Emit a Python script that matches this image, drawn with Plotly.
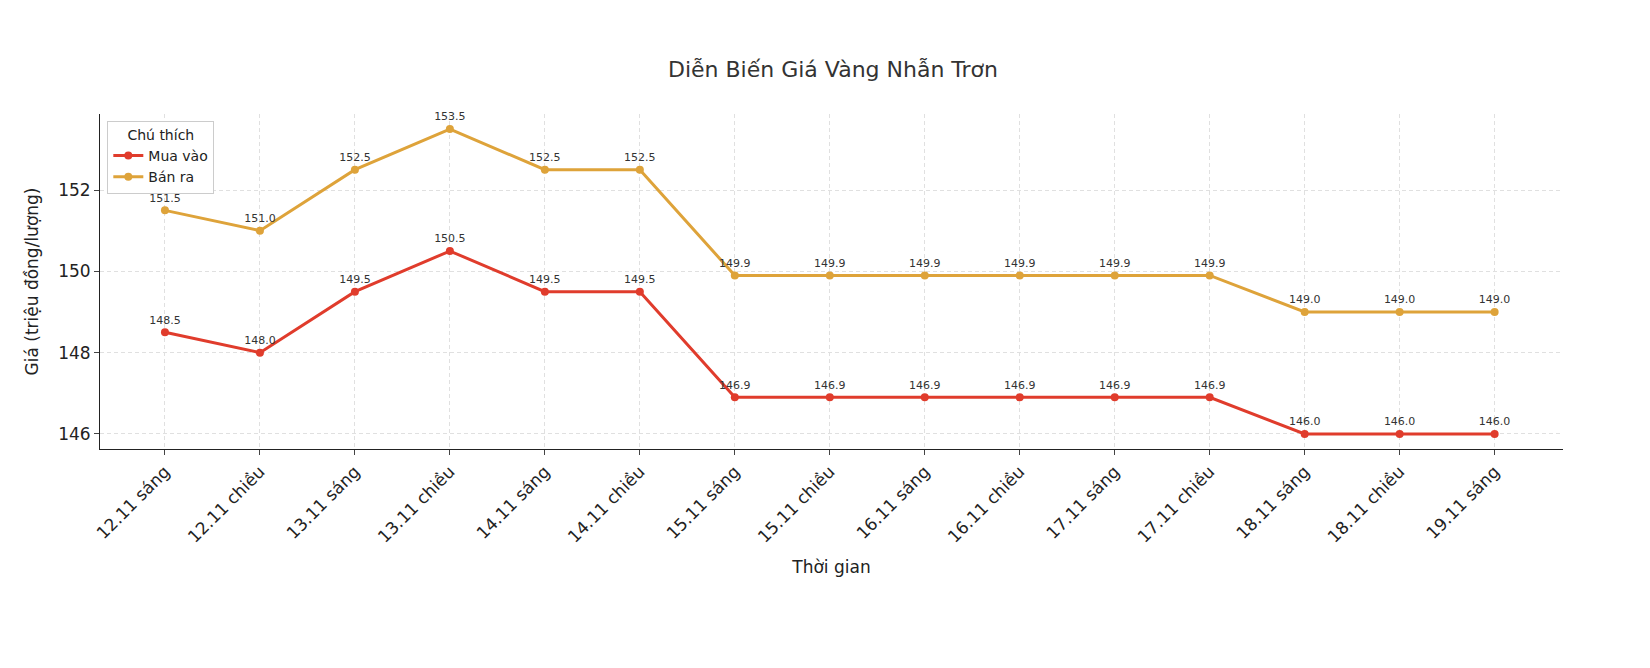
import plotly.graph_objects as go

# data
thoi_gian = ["12.11 sáng", "12.11 chiều", "13.11 sáng", "13.11 chiều", "14.11 sáng",
             "14.11 chiều", "15.11 sáng", "15.11 chiều", "16.11 sáng", "16.11 chiều",
             "17.11 sáng", "17.11 chiều", "18.11 sáng", "18.11 chiều", "19.11 sáng"]
mua_vao = [148.5, 148.0, 149.5, 150.5, 149.5, 149.5, 146.9, 146.9, 146.9, 146.9,
           146.9, 146.9, 146.0, 146.0, 146.0]
ban_ra = [151.5, 151.0, 152.5, 153.5, 152.5, 152.5, 149.9, 149.9, 149.9, 149.9,
          149.9, 149.9, 149.0, 149.0, 149.0]

xs = list(range(len(thoi_gian)))

fig = go.Figure()
for name, vals, color in [("Mua vào", mua_vao, "#e03c2c"), ("Bán ra", ban_ra, "#dea33a")]:
    fig.add_trace(go.Scatter(
        x=xs, y=vals, name=name, mode="lines+markers+text",
        line=dict(color=color, width=3), marker=dict(color=color, size=8),
        text=[f"{v:.1f}" for v in vals], textposition="top center",
        textfont=dict(size=11, color="#333333"), cliponaxis=False,
    ))

fig.update_layout(
    width=1650, height=668,
    paper_bgcolor="white", plot_bgcolor="white",
    font=dict(family="DejaVu Sans", color="#222222"),
    title=dict(text="Diễn Biến Giá Vàng Nhẫn Trơn", x=0.5, xanchor="center", y=0.92,
               font=dict(size=22, color="#333333")),
    margin=dict(l=92, r=95, t=106, b=227),
    legend=dict(title=dict(text="Chú thích", side="top center", font=dict(size=14)),
                x=0.005, y=0.98, xanchor="left", yanchor="top",
                bgcolor="white", bordercolor="#cccccc", borderwidth=1,
                font=dict(size=14)),
)
fig.update_xaxes(
    tickmode="array", tickvals=xs, ticktext=thoi_gian, tickangle=-45,
    range=[-0.684, 14.72], showgrid=True, gridcolor="#e0e0e0", griddash="4px,3px",
    showline=True, linecolor="#222222", ticks="outside", tickfont=dict(size=17),
    title=dict(text="Thời gian", font=dict(size=17)), zeroline=False,
)
fig.update_yaxes(
    range=[145.63, 153.87], tickvals=[146, 148, 150, 152],
    showgrid=True, gridcolor="#e0e0e0", griddash="4px,3px",
    showline=True, linecolor="#222222", ticks="outside", tickfont=dict(size=17),
    title=dict(text="Giá (triệu đồng/lượng)", font=dict(size=17)), zeroline=False,
)

fig.write_html("out.html")
